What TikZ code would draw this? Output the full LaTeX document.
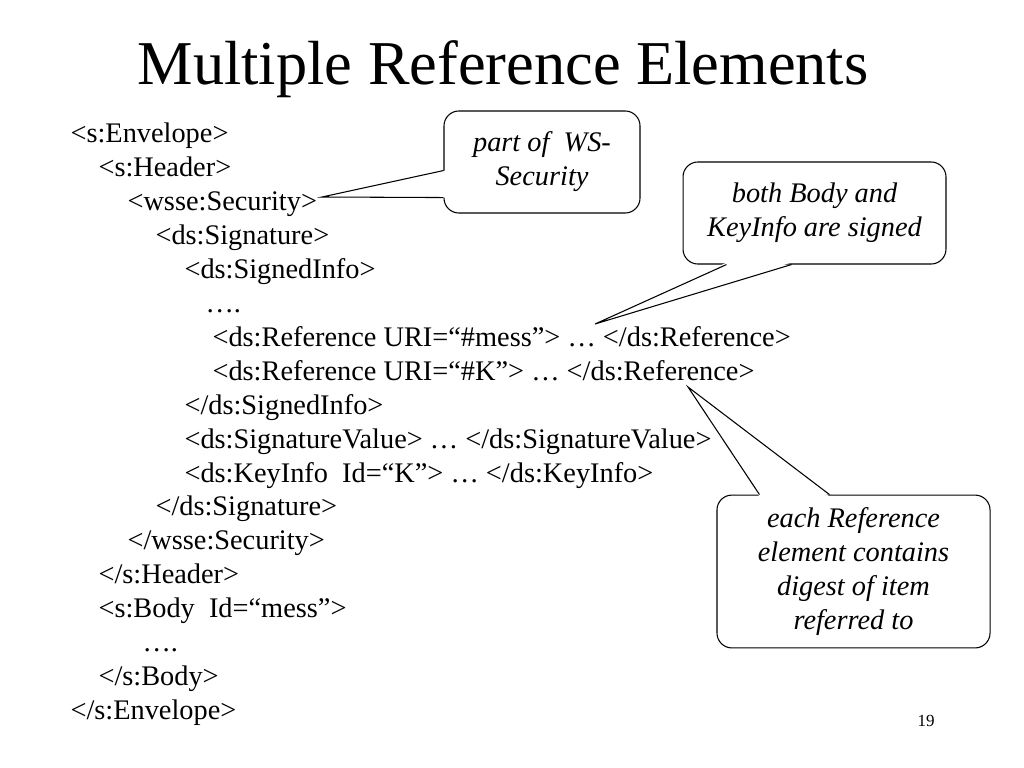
\documentclass[tikz,border=0pt]{standalone}
\usepackage{fontspec}
\setmainfont{Liberation Serif}[ItalicFont={Liberation Serif Italic}]
\usetikzlibrary{calc}
\begin{document}
\begin{tikzpicture}[x=0.0248cm,y=-0.0248cm,line width=0.75pt,
  xml/.style={anchor=base west,inner sep=0pt,font=\fontsize{20}{24}\selectfont},
  note/.style={draw,fill=white,rounded corners=0.37cm,align=center,inner sep=0pt,font=\fontsize{20}{24}\selectfont\itshape}]
\useasboundingbox (0,0) rectangle (1024,768);
\node[anchor=base,inner sep=0pt,font=\fontsize{44}{53}\selectfont] (title) at (503,85) {Multiple Reference Elements};
\node[xml] (envOpen) at (70,143) {<s:Envelope>};
\node[xml] (hdrOpen) at (98,176.9) {<s:Header>};
\node[xml] (secOpen) at (127,210.8) {<wsse:Security>};
\node[xml] (sigOpen) at (155,244.7) {<ds:Signature>};
\node[xml] (siOpen) at (184,278.6) {<ds:SignedInfo>};
\node[xml] (siDots) at (205,312.5) {….};
\node[xml] (refMess) at (212,346.4) {<ds:Reference URI=“\#mess”> … </ds:Reference>};
\node[xml] (refK) at (212,380.3) {<ds:Reference URI=“\#K”> … </ds:Reference>};
\node[xml] (siClose) at (184,414.2) {</ds:SignedInfo>};
\node[xml] (sigVal) at (184,448.1) {<ds:SignatureValue> … </ds:SignatureValue>};
\node[xml] (keyInfo) at (184,482) {<ds:KeyInfo\ \ Id=“K”> … </ds:KeyInfo>};
\node[xml] (sigClose) at (155,515.9) {</ds:Signature>};
\node[xml] (secClose) at (127,549.8) {</wsse:Security>};
\node[xml] (hdrClose) at (98,583.7) {</s:Header>};
\node[xml] (bodyOpen) at (98,617.6) {<s:Body\ \ Id=“mess”>};
\node[xml] (bodyDots) at (142,651.5) {….};
\node[xml] (bodyClose) at (98,685.4) {</s:Body>};
\node[xml] (envClose) at (70,719.3) {</s:Envelope>};
\node[anchor=base,inner sep=0pt,font=\fontsize{12}{14}\selectfont] (page) at (926,726) {19};
\node[note,minimum width=4.86cm,minimum height=2.53cm] (ws) at (542,162) {part of\ \ WS-\\Security};
\coordinate (wsTip) at (322,197);
\coordinate (wsA) at ($(ws.south west)+(0,-43)$);
\coordinate (wsB) at ($(ws.south west)+(0,-16)$);
\fill[white] ($(wsA)+(2,0)$) -- (wsTip) -- ($(wsB)+(2,0)$) -- cycle;
\draw (wsA) -- (wsTip) -- (wsB);
\node[note,minimum width=6.52cm,minimum height=2.53cm] (signed) at (814.5,213) {both Body and\\KeyInfo are signed};
\coordinate (signedTip) at (595,324);
\coordinate (signedA) at ($(signed.south west)+(44,0)$);
\coordinate (signedB) at ($(signed.south west)+(109,0)$);
\fill[white] ($(signedA)+(0,-2)$) -- (signedTip) -- ($(signedB)+(0,-2)$) -- cycle;
\draw (signedA) -- (signedTip) -- (signedB);
\node[note,minimum width=6.77cm,minimum height=3.79cm] (digest) at (853.5,571.5) {each Reference\\element contains\\digest of item\\referred to};
\coordinate (digestTip) at (688,387);
\coordinate (digestA) at ($(digest.north west)+(43,0)$);
\coordinate (digestB) at ($(digest.north west)+(113,0)$);
\fill[white] ($(digestA)+(0,2)$) -- (digestTip) -- ($(digestB)+(0,2)$) -- cycle;
\draw (digestA) -- (digestTip) -- (digestB);
\end{tikzpicture}
\end{document}
